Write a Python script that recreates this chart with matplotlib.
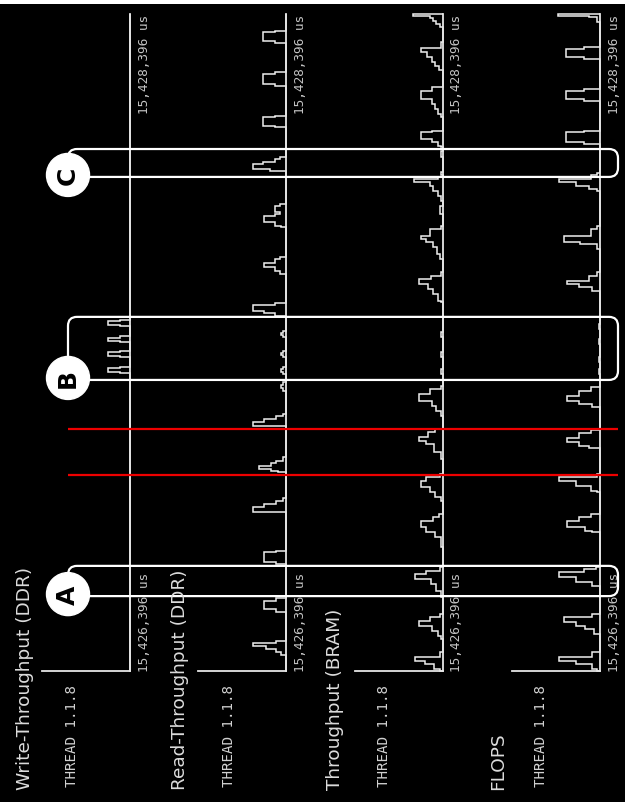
import matplotlib
matplotlib.use("Agg")
import matplotlib.pyplot as plt
from matplotlib.patches import FancyBboxPatch, Circle, Rectangle

# ---------------- data ----------------
T0 = 15426396          # first timestamp shown (us)
SPAN = 2000            # window length (us)

titles = ["Write-Throughput (DDR)", "Read-Throughput (DDR)", "Throughput (BRAM)", "FLOPS"]
thread_label = "THREAD 1.1.8"

# step series: segment start times (us after T0) and the value held in each segment
write_t = [0, 907, 911, 921, 925, 956, 960, 970, 974, 1001, 1005, 1015, 1020,
           1050, 1054, 1064, 1068]
write_v = [0, 10, 22, 10, 0, 10, 22, 10, 0, 10, 22, 10, 0,
           10, 22, 10, 0]

read_t = [0, 49, 58, 67, 76, 85, 92,
          180, 189, 214, 221,
          326, 331, 361, 366,
          483, 498, 508, 518, 526,
          605, 610, 615, 625, 633, 640, 651,
          747, 757, 767, 775, 782,
          853, 860, 872, 879,
          904, 910, 918, 925,
          955, 961, 969, 975,
          1016, 1022, 1030, 1036,
          1082, 1090, 1097, 1114, 1119,
          1209, 1219, 1229, 1242, 1254, 1259,
          1351, 1356, 1367, 1386, 1391, 1397, 1416, 1422,
          1523, 1528, 1543, 1549, 1559, 1566,
          1655, 1660, 1685, 1690,
          1782, 1787, 1817, 1822,
          1912, 1917, 1944, 1949]
read_v = [0, 5, 10, 20, 33, 10, 0,
          10, 22, 10, 0,
          10, 22, 10, 0,
          33, 22, 10, 3, 0,
          8, 15, 27, 15, 10, 3, 0,
          33, 22, 10, 3, 0,
          3, 5, 3, 0,
          3, 5, 3, 0,
          3, 5, 3, 0,
          3, 5, 3, 0,
          11, 22, 33, 11, 0,
          6, 11, 22, 11, 6, 0,
          5, 11, 22, 11, 6, 11, 6, 0,
          16, 33, 23, 11, 6, 0,
          11, 23, 11, 0,
          11, 23, 11, 0,
          11, 23, 11, 0]

bram_t = [0, 6, 21, 31, 42, 57,
          97, 107, 123, 138, 153, 163, 174,
          224, 244, 265, 280, 295, 305, 316,
          377, 407, 422, 437, 458, 468, 478,
          518, 529, 544, 559, 579, 590, 600,
          645, 666, 691, 701, 711, 727, 737,
          777, 792, 808, 823, 843, 858, 868,
          904, 919, 956, 971, 1017, 1032,
          1122, 1127, 1148, 1163, 1178, 1193, 1203, 1214,
          1254, 1269, 1290, 1305, 1315, 1325, 1345, 1356,
          1391, 1416,
          1432, 1447, 1462, 1477, 1488, 1498, 1503,
          1510, 1519,
          1565, 1583,
          1594, 1599, 1609, 1619, 1640, 1645,
          1685, 1696, 1711, 1726, 1741, 1766, 1777,
          1829, 1842, 1854, 1869, 1884, 1898, 1914,
          1959, 1970, 1979, 1988, 1995]
bram_v = [3, 9, 18, 28, 3, 0,
          2, 5, 11, 24, 13, 3, 0,
          2, 7, 12, 28, 17, 3, 0,
          2, 8, 17, 22, 10, 4, 0,
          2, 8, 13, 22, 17, 3, 0,
          2, 9, 17, 24, 15, 8, 0,
          2, 7, 11, 24, 13, 2, 0,
          2, 0, 2, 0, 2, 0,
          2, 5, 10, 15, 24, 12, 2, 0,
          3, 6, 10, 17, 22, 13, 2, 0,
          3, 0,
          2, 5, 10, 13, 29, 5, 0,
          2, 0,
          2, 0,
          2, 5, 11, 22, 11, 0,
          2, 5, 8, 11, 22, 11, 0,
          4, 8, 11, 16, 22, 2, 0,
          3, 7, 10, 13, 30]

flops_t = [0, 6, 21, 31, 42, 57,
           113, 128, 138, 148, 163, 174,
           260, 272, 285, 300, 310, 316,
           422, 427, 437, 458, 468, 478,
           544, 549, 564, 579, 590, 600,
           678, 686, 696, 708, 724, 735,
           803, 813, 823, 838, 853, 864,
           904, 919, 941, 956, 995, 1010, 1040, 1055,
           1158, 1168, 1178, 1188, 1203, 1214,
           1285, 1300, 1305, 1325, 1345, 1356,
           1462, 1467, 1477, 1488, 1498, 1510, 1516,
           1604, 1609, 1640, 1645,
           1736, 1741, 1766, 1772,
           1863, 1868, 1893, 1899,
           1975, 1990, 1995]
flops_v = [3, 8, 24, 41, 8, 0,
           6, 15, 24, 36, 8, 0,
           8, 24, 41, 16, 4, 0,
           8, 15, 33, 21, 9, 0,
           3, 9, 24, 41, 3, 0,
           11, 21, 33, 21, 9, 0,
           8, 21, 33, 21, 9, 0,
           1, 0, 1, 0, 1, 0, 1, 0,
           8, 21, 33, 11, 3, 0,
           3, 20, 36, 9, 3, 0,
           3, 11, 24, 41, 9, 3, 0,
           16, 34, 16, 0,
           16, 34, 16, 0,
           16, 34, 16, 0,
           3, 11, 42]

series_t = [write_t, read_t, bram_t, flops_t]
series_v = [write_v, read_v, bram_v, flops_v]
VALUE_MAX = 88

# highlighted regions (us after T0) and marker lines
region_names = ["A", "B", "C"]
region_start = [228, 886, 1504]
region_end = [320, 1078, 1589]
marker_times = [598, 738]

# ---------------- layout ----------------
W, H = 625, 803
fig = plt.figure(figsize=(W / 100, H / 100), dpi=100, facecolor="black")

panel_left = [42, 198, 355, 512]
panel_w = 88
top_px, bot_px = 15, 672
title_x = [25, 180, 335, 498]
thread_x = [72, 229, 384, 541]
stamp_dx = 14

line_col = "#eeeeee"
axes = []
for i in range(4):
    ax = fig.add_axes([panel_left[i] / W, (H - bot_px) / H,
                       panel_w / W, (bot_px - top_px) / H])
    ax.set_facecolor("none")
    edges = list(series_t[i]) + [SPAN]
    ax.stairs(series_v[i], edges, orientation="horizontal", baseline=0,
              color=line_col, lw=1.1, clip_on=False)
    ax.set_xlim(VALUE_MAX, 0)
    ax.set_ylim(0, SPAN)
    for s in ["top", "left"]:
        ax.spines[s].set_visible(False)
    for s in ["right", "bottom"]:
        ax.spines[s].set_color("#e6e6e6")
        ax.spines[s].set_linewidth(1.3)
    ax.set_xticks([])
    ax.set_yticks([])
    axes.append(ax)

# overlay in pixel coordinates
ov = fig.add_axes([0, 0, 1, 1], zorder=10)
ov.set_xlim(0, W)
ov.set_ylim(0, H)
ov.axis("off")
ov.patch.set_alpha(0)


def t2y(t):
    return axes[0].transData.transform((0, t))[1]


# top white border strip
ov.add_patch(Rectangle((0, H - 5), W, 5, color="white", lw=0))

for i in range(4):
    ov.text(title_x[i], H - 790, titles[i], rotation=90, rotation_mode="anchor",
            ha="left", va="center", color="#dcdcdc", fontsize=13.3,
            family="DejaVu Sans")
    ov.text(thread_x[i], H - 787, thread_label, rotation=90, rotation_mode="anchor",
            ha="left", va="center", color="#d2d2d2", fontsize=10.2,
            family="DejaVu Sans Mono")
    bx = panel_left[i] + panel_w + stamp_dx
    ov.text(bx, t2y(0), f"{T0:,} us", rotation=90, rotation_mode="anchor",
            ha="left", va="center", color="#c4c4c4", fontsize=9.2,
            family="DejaVu Sans Mono")
    ov.text(bx, t2y(SPAN), f"{T0 + SPAN:,} us", rotation=90, rotation_mode="anchor",
            ha="right", va="center", color="#c4c4c4", fontsize=9.2,
            family="DejaVu Sans Mono")

# red marker lines
for mt in marker_times:
    y = t2y(mt)
    ov.plot([68, 618], [y, y], color="#ee0000", lw=1.6, solid_capstyle="butt")

# rounded region boxes with lettered circles
for name, ts, te in zip(region_names, region_start, region_end):
    y0, y1 = t2y(ts), t2y(te)
    ov.add_patch(FancyBboxPatch((68, y0), 618 - 68, y1 - y0,
                                boxstyle="round,pad=0,rounding_size=9",
                                fill=False, ec="white", lw=1.6))
    ov.add_patch(Circle((68, y0 + 2), 21.5, fc="white", ec="white", zorder=12))
    ov.text(68, y0 + 2, name, rotation=90, ha="center", va="center",
            fontsize=18, fontweight="bold", color="black", zorder=13,
            family="DejaVu Sans")

fig.savefig("out.png", dpi=100, facecolor="black")
